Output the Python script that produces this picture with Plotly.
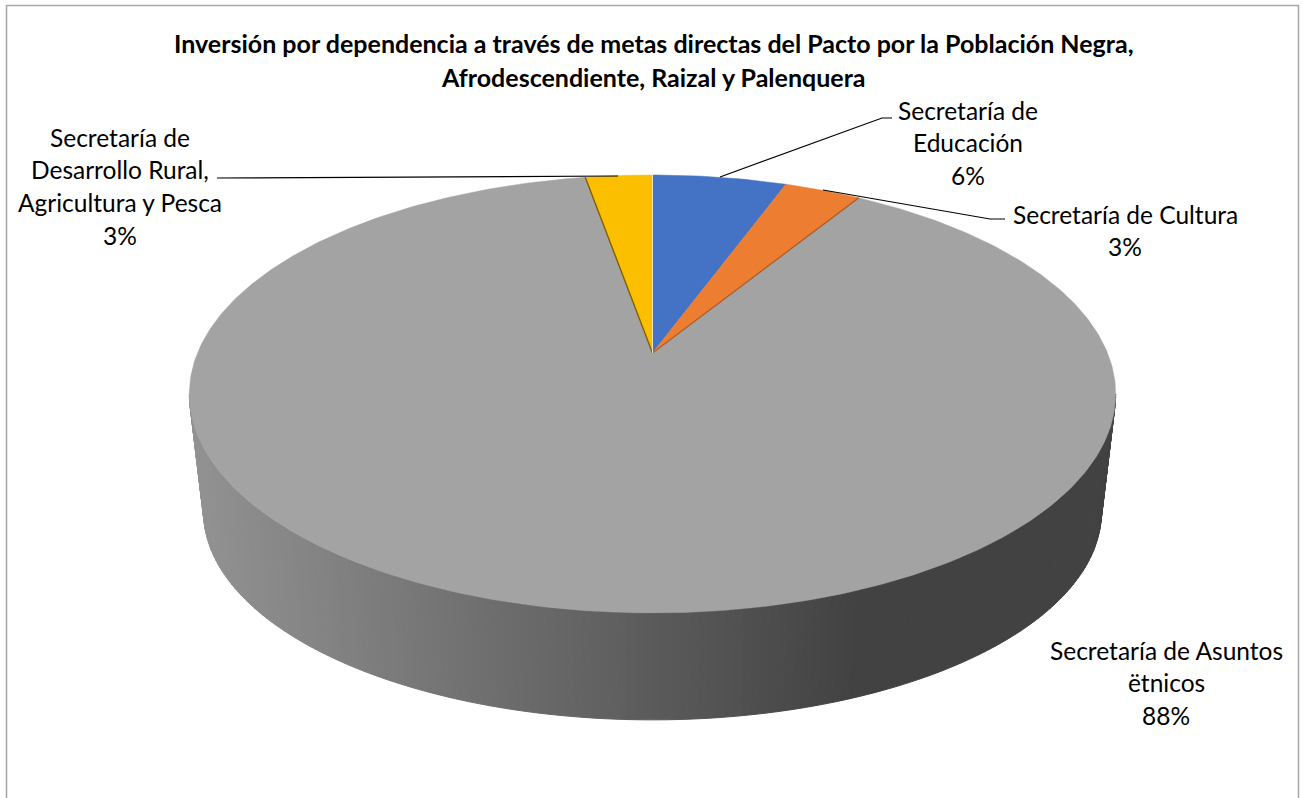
import numpy as np
import plotly.graph_objects as go

# ---- data ----
categories = ["Secretaría de Educación", "Secretaría de Cultura",
              "Secretaría de Asuntos ëtnicos", "Secretaría de Desarrollo Rural, Agricultura y Pesca"]
shares = [5.6, 3.2, 88.4, 2.8]
percent_labels = ["6%", "3%", "88%", "3%"]
slice_colors = ["#4472C4", "#ED7D31", "#A3A3A3", "#FCBF00"]
edge_colors = ["#8FAADC", "#B0602A", "#A3A3A3", "#7F6000"]
title_lines = ["Inversión por dependencia a través de metas directas del Pacto por la Población Negra,",
               "Afrodescendiente, Raizal y Palenquera"]
label_lines = [["Secretaría de", "Educación", "6%"],
               ["Secretaría de Cultura", "3%"],
               ["Secretaría de Asuntos", "ëtnicos", "88%"],
               ["Secretaría de", "Desarrollo Rural,", "Agricultura y Pesca", "3%"]]
label_x = [968, 1125, 1166, 120]
label_first_y = [110, 214, 650, 137]
LINE_STEP = 32.8
leaders = [([720, 882, 892], [177, 118, 118]),
           ([823, 990, 1005], [190, 219, 219]),
           ([618, 217], [176, 178])]

# ---- projection of the tilted disc on the axes ----
X0, K = 652.5, 0.187
TOP = dict(y0=353.0, a=455.0, b=211.3)
BOT = dict(y0=473.0, a=441.0, b=200.7)


def rim(theta, p):
    d = 1 + K * np.cos(theta)
    return X0 + p["a"] * np.sin(theta) / d, p["y0"] - p["b"] * np.cos(theta) / d


def side_grey(x):
    v = np.interp(x, [190, 860, 1115], [146, 66, 66])
    v = int(round(float(v)))
    return f"rgb({v},{v},{v})"


fig = go.Figure()

# side wall, strip by strip
t_ext = np.arccos(-K)
edges = np.linspace(t_ext, 2 * np.pi - t_ext, 171)
for t1, t2 in zip(edges[:-1], edges[1:]):
    ts = np.array([t1, t2])
    xt, yt = rim(ts, TOP)
    xb, yb = rim(ts, BOT)
    c = side_grey(float(xt.mean()))
    fig.add_trace(go.Scatter(x=[xt[0], xt[1], xb[1], xb[0], xt[0]],
                             y=[yt[0], yt[1], yb[1], yb[0], yt[0]],
                             mode="lines", fill="toself", fillcolor=c,
                             line=dict(color=c, width=1), hoverinfo="skip", showlegend=False))

# top face slices
cum = np.cumsum([0] + shares) / np.sum(shares) * 2 * np.pi
for i, name in enumerate(categories):
    th = np.linspace(cum[i], cum[i + 1], max(4, int(shares[i] * 5)))
    xr, yr = rim(th, TOP)
    fig.add_trace(go.Scatter(x=[X0, *xr, X0], y=[TOP["y0"], *yr, TOP["y0"]],
                             mode="lines", fill="toself", fillcolor=slice_colors[i],
                             line=dict(color=slice_colors[i], width=0.5),
                             name=name, text=percent_labels[i], hoverinfo="name+text", showlegend=False))

# darker cut edges of the slices
for i, theta in [(1, cum[2]), (3, cum[3])]:
    xr, yr = rim(np.array([theta]), TOP)
    fig.add_trace(go.Scatter(x=[X0, xr[0]], y=[TOP["y0"], yr[0]], mode="lines",
                             line=dict(color=edge_colors[i], width=1.4), hoverinfo="skip", showlegend=False))
xr, yr = rim(np.array([0.0]), TOP)
fig.add_trace(go.Scatter(x=[X0, xr[0]], y=[TOP["y0"], yr[0]], mode="lines",
                         line=dict(color="#E8E4C8", width=1), hoverinfo="skip", showlegend=False))

# leader lines
for lx, ly in leaders:
    fig.add_trace(go.Scatter(x=lx, y=ly, mode="lines", line=dict(color="#000000", width=1.2),
                             hoverinfo="skip", showlegend=False))

FONT = "Lato, Carlito, Calibri, sans-serif"
annotations = []
for j, line in enumerate(title_lines):
    annotations.append(dict(x=653, y=43 + j * 34, text=f"<b>{line}</b>", showarrow=False,
                            xanchor="center", yanchor="middle",
                            font=dict(family=FONT, size=25, color="#000000")))
for lines, lx, ly in zip(label_lines, label_x, label_first_y):
    for j, line in enumerate(lines):
        annotations.append(dict(x=lx, y=ly + j * LINE_STEP, text=line, showarrow=False,
                                xanchor="center", yanchor="middle",
                                font=dict(family=FONT, size=24.5, color="#000000")))

fig.update_layout(
    width=1303, height=798, autosize=False,
    margin=dict(l=0, r=0, t=0, b=0),
    paper_bgcolor="#FFFFFF", plot_bgcolor="#FFFFFF", showlegend=False,
    xaxis=dict(range=[0, 1303], visible=False, fixedrange=True),
    yaxis=dict(range=[798, 0], visible=False, fixedrange=True),
    annotations=annotations,
    shapes=[dict(type="rect", xref="x", yref="y", x0=6.5, y0=5.5, x1=1298.5, y1=840,
                 line=dict(color="#A6A6A6", width=1.5), layer="below")],
)
fig.write_html("out.html", config={"displayModeBar": False},
               post_script="document.body.style.margin='0';document.body.style.overflow='hidden';")
